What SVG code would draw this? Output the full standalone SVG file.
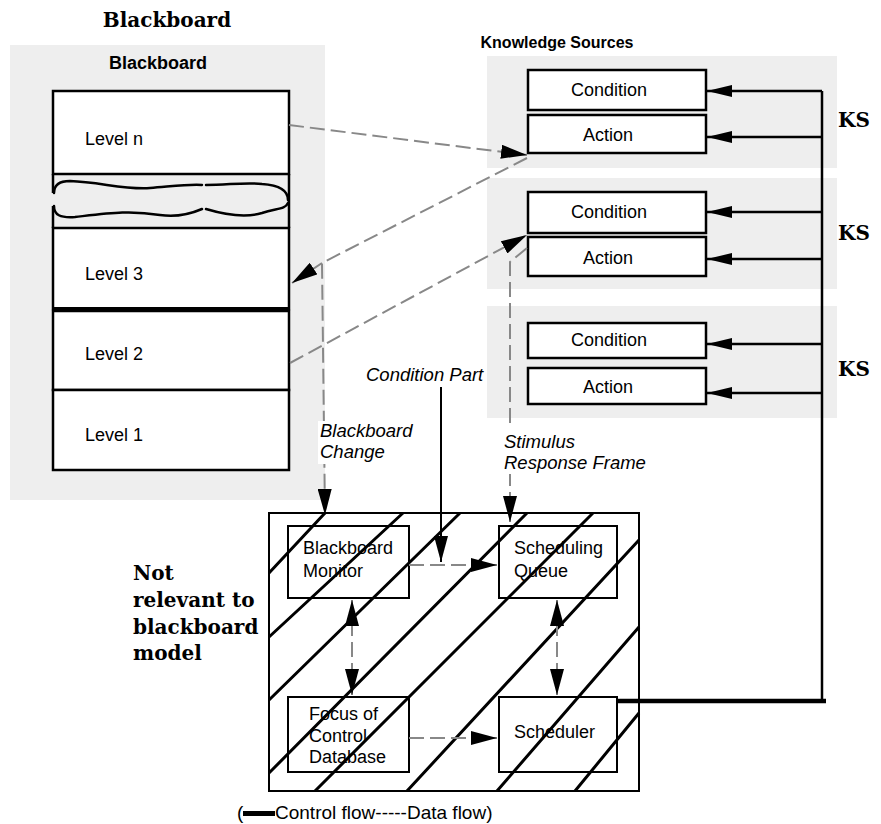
<svg xmlns="http://www.w3.org/2000/svg" width="881" height="824" viewBox="0 0 881 824">
<style>
.panel{fill:#eeeeee;stroke:none}
.box{fill:#ffffff;stroke:#000;stroke-width:2.5}
.sbox{fill:#ffffff;stroke:#000;stroke-width:2}
.t{font-family:"Liberation Sans",Arial,sans-serif;font-size:18px;fill:#000}
.tb{font-family:"Liberation Sans",Arial,sans-serif;font-size:18px;font-weight:bold;fill:#000}
.ti{font-family:"Liberation Sans",Arial,sans-serif;font-size:18.5px;font-style:italic;fill:#000}
.sf{font-family:"DejaVu Serif","Liberation Serif",serif;font-size:20px;font-weight:bold;fill:#000}
.d{fill:none;stroke:#888;stroke-width:2;stroke-dasharray:15 6}
.c{fill:none;stroke:#000;stroke-width:2.5}
.h{fill:none;stroke:#000;stroke-width:3}
.w{fill:none;stroke:#000;stroke-width:2.5;stroke-linecap:round}
</style>
<defs>
<marker id="ah" viewBox="0 0 26 14" refX="26" refY="7" markerWidth="26" markerHeight="14" markerUnits="userSpaceOnUse" orient="auto-start-reverse">
<path d="M0,0 L26,7 L0,14 z" fill="#000"/>
</marker>
<marker id="ahc" viewBox="0 0 25 12" refX="25" refY="6" markerWidth="25" markerHeight="12" markerUnits="userSpaceOnUse" orient="auto">
<path d="M0,0 L25,6 L0,12 z" fill="#000"/>
</marker>
</defs>

<text class="sf" x="167" y="27" text-anchor="middle">Blackboard</text>

<g id="blackboard">
<rect class="panel" x="10" y="45" width="315" height="455"/>
<text class="tb" x="158" y="69" text-anchor="middle">Blackboard</text>
</g>

<g id="level-n">
<rect class="box" x="53" y="91" width="236" height="83"/>
<text class="t" x="85" y="145">Level n</text>
</g>

<g id="gap">
<path class="c" d="M53,174 L53,193 M53,206 L53,228 M289,174 L289,228"/>
<path class="w" d="M54,193 C54,184 60,181 70,181 C100,182 125,190 150,188 C175,186 190,184 202,185 M206,185 C228,185 245,182 262,184 C277,185 288,189 288,200"/>
<path class="w" d="M54,206 C54,215 60,218 75,217 C110,213 130,210 160,215 C180,218 195,212 202,209 M206,209 C226,215 245,218 262,213 C276,208 285,210 288,203"/>
</g>

<g id="level-3">
<rect class="box" x="53" y="228" width="236" height="81"/>
<line x1="52" y1="309" x2="290" y2="309" stroke="#000" stroke-width="4"/>
<text class="t" x="85" y="280">Level 3</text>
</g>

<g id="level-2">
<rect class="box" x="53" y="311" width="236" height="79"/>
<text class="t" x="85" y="360">Level 2</text>
</g>

<g id="level-1">
<rect class="box" x="53" y="390" width="236" height="80"/>
<text class="t" x="85" y="441">Level 1</text>
</g>

<text class="tb" x="557" y="48" text-anchor="middle" style="font-size:16px">Knowledge Sources</text>

<g id="ks1">
<rect class="panel" x="487" y="56" width="350" height="112"/>
<rect class="box" x="528" y="70" width="178" height="40"/>
<text class="t" x="609" y="96" text-anchor="middle">Condition</text>
<rect class="box" x="528" y="115" width="178" height="38"/>
<text class="t" x="608" y="141" text-anchor="middle">Action</text>
<text class="sf" x="838" y="127">KS</text>
</g>

<g id="ks2">
<rect class="panel" x="487" y="178" width="350" height="111"/>
<rect class="box" x="528" y="192" width="178" height="41"/>
<text class="t" x="609" y="218" text-anchor="middle">Condition</text>
<rect class="box" x="528" y="237" width="178" height="39"/>
<text class="t" x="608" y="264" text-anchor="middle">Action</text>
<text class="sf" x="838" y="240">KS</text>
</g>

<g id="ks3">
<rect class="panel" x="487" y="306" width="350" height="112"/>
<rect class="box" x="528" y="323" width="178" height="35"/>
<text class="t" x="609" y="346" text-anchor="middle">Condition</text>
<rect class="box" x="528" y="368" width="178" height="36"/>
<text class="t" x="608" y="393" text-anchor="middle">Action</text>
<text class="sf" x="838" y="376">KS</text>
</g>

<g id="not-relevant">
<text class="sf" x="133" y="580">Not</text>
<text class="sf" x="133" y="607">relevant to</text>
<text class="sf" x="133" y="634">blackboard</text>
<text class="sf" x="133" y="660">model</text>
</g>

<g id="control-area">
<rect class="sbox" x="269" y="513" width="370" height="278"/>
</g>

<g id="blackboard-monitor">
<rect class="sbox" x="288" y="526" width="121" height="72"/>
<text class="t" x="303" y="554">Blackboard</text>
<text class="t" x="303" y="577">Monitor</text>
</g>

<g id="scheduling-queue">
<rect class="sbox" x="499" y="526" width="118" height="72"/>
<text class="t" x="514" y="554">Scheduling</text>
<text class="t" x="514" y="577">Queue</text>
</g>

<g id="focus-of-control">
<rect class="sbox" x="288" y="697" width="121" height="75"/>
<text class="t" x="309" y="720">Focus of</text>
<text class="t" x="309" y="742">Control</text>
<text class="t" x="309" y="763">Database</text>
</g>

<g id="scheduler">
<rect class="sbox" x="499" y="697" width="118" height="75"/>
<text class="t" x="514" y="738">Scheduler</text>
</g>

<g id="hatch">
<path class="h" d="M269,573 L325,513 M269,637 L403,513 M269,700 L460,513 M269,773 L527,513 M315,791 L593,513 M407,791 L639,540 M497,791 L639,627 M575,791 L639,713"/>
</g>

<g id="connectors">
<path class="d" d="M289,125 L527,155" marker-end="url(#ah)"/>
<path class="d" d="M527,158 L322,263 L325,515" marker-end="url(#ah)"/>
<path class="d" d="M322,263 L292,283" marker-end="url(#ah)"/>
<path class="d" d="M290,363 L527,235" marker-end="url(#ah)"/>
<path class="d" d="M527,248 L510,262 L510,522" marker-end="url(#ah)"/>
<path class="d" d="M409,565 L497,565" marker-end="url(#ah)"/>
<path class="d" d="M352,600 L352,695" marker-start="url(#ah)" marker-end="url(#ah)"/>
<path class="d" d="M557,600 L557,695" marker-start="url(#ah)" marker-end="url(#ah)"/>
<path class="d" d="M409,738 L497,738" marker-end="url(#ah)"/>
<path d="M441,387 L441,562" fill="none" stroke="#000" stroke-width="2" marker-end="url(#ah)"/>
<path class="c" d="M822,91 L822,701"/>
<path class="c" d="M822,91 L707,91" marker-end="url(#ahc)"/>
<path class="c" d="M822,137 L707,137" marker-end="url(#ahc)"/>
<path class="c" d="M822,212 L707,212" marker-end="url(#ahc)"/>
<path class="c" d="M822,259 L707,259" marker-end="url(#ahc)"/>
<path class="c" d="M822,344 L707,344" marker-end="url(#ahc)"/>
<path class="c" d="M822,393 L707,393" marker-end="url(#ahc)"/>
<path d="M617,701 L826,701" stroke="#000" stroke-width="4.5"/>
</g>

<g id="labels">
<rect x="318" y="421" width="92" height="43" fill="#fff"/>
<text class="ti" x="320" y="437">Blackboard</text>
<text class="ti" x="320" y="458">Change</text>
<text class="ti" x="366" y="381">Condition Part</text>
<rect x="502" y="428" width="150" height="46" fill="#fff"/>
<text class="ti" x="504" y="448">Stimulus</text>
<text class="ti" x="504" y="469">Response Frame</text>
</g>

<g id="legend">
<text class="t" x="237" y="819" style="font-size:19px">(</text>
<rect x="243" y="811" width="32" height="5" fill="#000"/>
<text class="t" x="275" y="819" style="font-size:19px">Control flow-----Data flow)</text>
</g>
</svg>
